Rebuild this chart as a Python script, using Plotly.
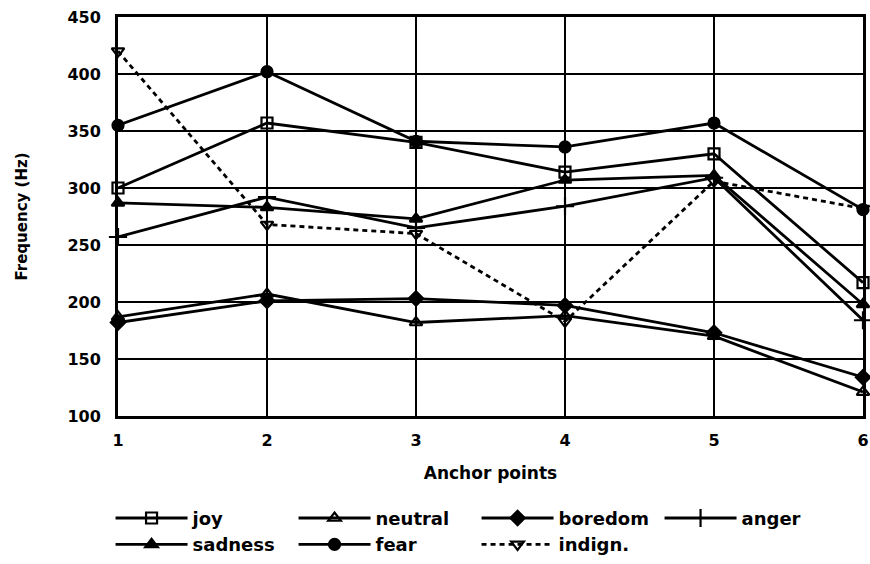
import plotly.graph_objects as go

anchor_points = [1, 2, 3, 4, 5, 6]
joy = [300, 357, 340, 314, 330, 217]
neutral = [187, 207, 182, 188, 170, 121]
boredom = [182, 201, 203, 197, 173, 134]
anger = [257, 292, 265, 284, 309, 184]
sadness = [287, 283, 273, 307, 311, 198]
fear = [355, 402, 341, 336, 357, 281]
indign = [420, 268, 260, 183, 306, 282]

y_ticks = [100, 150, 200, 250, 300, 350, 400, 450]

FONT = "DejaVu Sans"
series = [
    ("joy", joy, "square-open", None),
    ("neutral", neutral, "triangle-up-open", None),
    ("boredom", boredom, "diamond", None),
    ("anger", anger, "cross-thin", None),
    ("sadness", sadness, "triangle-up", None),
    ("fear", fear, "circle", None),
    ("indign.", indign, "triangle-down-open", "5px,4px"),
]

fig = go.Figure()
for name, vals, sym, dash in series:
    size = 11
    if sym == "cross-thin":
        size = 13
    fig.add_trace(go.Scatter(
        x=anchor_points, y=vals, name=name, mode="lines+markers",
        line=dict(color="black", width=2.8, dash=dash if dash else "solid"),
        marker=dict(symbol=sym, size=size, color="black",
                    line=dict(color="black", width=2.2)),
        cliponaxis=False,
    ))

axis_common = dict(
    showgrid=True, gridcolor="black", gridwidth=2.4,
    showline=True, linecolor="black", linewidth=2.8, mirror=True,
    zeroline=False, ticks="",
    tickfont=dict(family=FONT, size=16, color="black", weight="bold"),
)

fig.update_xaxes(range=[1, 6], tickvals=anchor_points, ticklabelstandoff=8,
                 title=dict(text="Anchor points", standoff=19,
                            font=dict(family=FONT, size=17, color="black", weight="bold")),
                 **axis_common)
fig.update_yaxes(range=[100, 450], tickvals=y_ticks, ticklabelstandoff=11,
                 title=dict(text="Frequency (Hz)", standoff=37,
                            font=dict(family=FONT, size=15, color="black", weight="bold")),
                 **axis_common)

fig.update_layout(
    width=870, height=564,
    margin=dict(l=118, r=7, t=17, b=148, autoexpand=False),
    paper_bgcolor="white", plot_bgcolor="white",
    font=dict(family=FONT, color="black", weight="bold"),
    showlegend=True,
    legend=dict(
        orientation="h", x=-0.01, xanchor="left", y=-0.21, yanchor="top",
        entrywidth=96, entrywidthmode="pixels",
        font=dict(family=FONT, size=18, color="black", weight="bold"),
        itemwidth=72, tracegroupgap=0,
    ),
)

fig.write_html(
    "out.html",
    config={"displayModeBar": False},
    post_script="document.body.style.margin='0';"
                "document.documentElement.style.overflow='hidden';"
                "document.body.style.overflow='hidden';",
)
